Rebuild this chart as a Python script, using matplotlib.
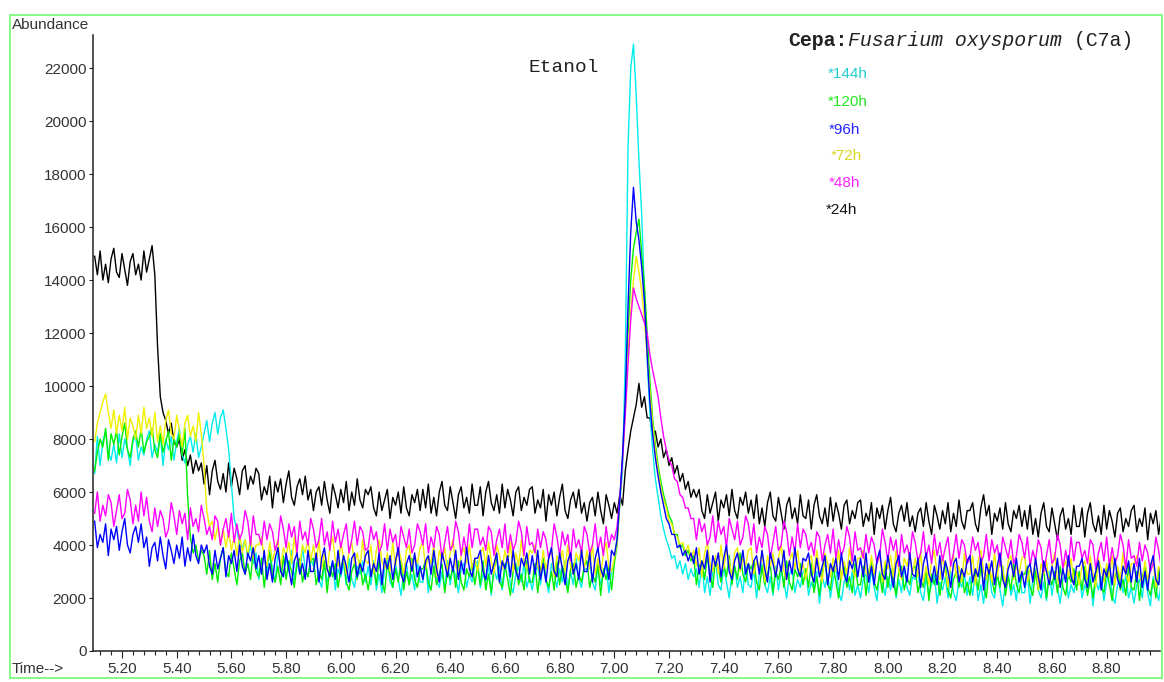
"""Total ion chromatogram overlay, Fusarium oxysporum (C7a), 24h to 144h."""

import numpy as np
import matplotlib

matplotlib.use("Agg")
import matplotlib.pyplot as plt
from matplotlib.patches import Rectangle
from matplotlib.ticker import MultipleLocator, FormatStrFormatter

W, H = 1164, 682

# retention time, 5.10 to 9.00 min every 0.01 min; one row below = 0.20 min
minutes = np.arange(510, 901) / 100

h24 = [
    14900, 14200, 15100, 14000, 14600, 13900, 14800, 15200, 14300, 14100, 15000, 14400, 13800, 14700, 15000, 14200, 14600, 14000, 15100, 14300,
    14800, 15300, 14200, 11500, 9600, 9000, 8700, 8200, 8600, 7900, 7700, 8000, 7200, 7600, 7000, 7400, 6700, 7200, 6800, 7100,
    6300, 7000, 5900, 6800, 7200, 6400, 6100, 6700, 6000, 7100, 6200, 6900, 6500, 5900, 6800, 7000, 6100, 6600, 6300, 6900,
    6700, 5700, 6200, 5900, 6600, 5400, 6400, 6000, 6500, 5600, 6300, 6800, 5800, 5500, 6200, 6500, 5900, 6600, 5700, 6100,
    5300, 6000, 6200, 5500, 6400, 5700, 5200, 6300, 5900, 5400, 6100, 5600, 6400, 5300, 6000, 5500, 6500, 5700, 5400, 6100,
    5900, 6200, 5400, 5100, 6000, 5300, 5700, 6100, 5000, 5800, 5500, 6000, 5200, 6200, 5400, 5100, 5900, 5600, 6100, 5300,
    6100, 5400, 6300, 5200, 5800, 5100, 6000, 6400, 5500, 5300, 6200, 5600, 5000, 5900, 6200, 5400, 5800, 5200, 6300, 5500,
    5500, 6200, 5100, 6000, 6400, 5600, 5300, 5900, 5200, 6300, 5400, 6100, 5700, 5100, 6000, 6200, 5300, 5800, 5500, 6100,
    6200, 5200, 5700, 5400, 6100, 4900, 5900, 5500, 6000, 5100, 5800, 6300, 5300, 5000, 5700, 6000, 5400, 6100, 5200, 5600,
    4900, 5600, 5800, 5100, 6000, 5300, 4800, 5900, 5500, 5000, 5600, 5200, 5900, 5500, 6800, 7600, 8300, 8800, 9300, 10100,
    9200, 9600, 8800, 8800, 8200, 8300, 7700, 8000, 7300, 7600, 7000, 7300, 6700, 7000, 6400, 6700, 6100, 6400, 5800, 6100,
    5800, 6100, 5300, 5000, 5900, 5200, 5600, 6000, 4900, 5700, 5400, 5900, 5100, 6100, 5300, 5000, 5800, 5500, 6000, 5200,
    5700, 5000, 5900, 4800, 5400, 4700, 5600, 6000, 5100, 4900, 5800, 5200, 4600, 5500, 5800, 5000, 5400, 4800, 5900, 5100,
    5000, 5700, 4600, 5500, 5900, 5100, 4800, 5400, 4700, 5800, 4900, 5600, 5200, 4600, 5500, 5700, 4800, 5300, 5000, 5600,
    5700, 4700, 5200, 4900, 5600, 4400, 5400, 5000, 5500, 4600, 5300, 5800, 4800, 4500, 5200, 5500, 4900, 5600, 4700, 5100,
    4500, 5200, 5400, 4700, 5600, 4900, 4400, 5500, 5100, 4600, 5300, 4800, 5600, 4500, 5200, 4700, 5700, 4900, 4600, 5300,
    5300, 5600, 4800, 4500, 5400, 5900, 5100, 5500, 4400, 5200, 4900, 5400, 4600, 5600, 4800, 4500, 5300, 5000, 5500, 4700,
    5300, 4600, 5500, 4400, 5000, 4300, 5200, 5600, 4700, 4500, 5400, 4800, 4200, 5100, 5400, 4600, 5000, 4400, 5500, 4700,
    4700, 5400, 4300, 5200, 5600, 4800, 4500, 5100, 4400, 5500, 4600, 5300, 4900, 4300, 5200, 5400, 4500, 5000, 4700, 5300,
    5500, 4500, 5000, 4700, 5400, 4200, 5200, 4800, 5300, 4400, 5100,
]

h48 = [
    5200, 6000, 4900, 5500, 5100, 5900, 5600, 4700, 5300, 5900, 5000, 5200, 6100, 5700, 4800, 5500, 4900, 6000, 5100, 5800,
    4900, 4500, 5400, 4700, 5300, 5000, 4300, 4600, 5600, 5100, 4400, 5300, 4800, 5200, 4200, 5400, 4700, 5000, 4500, 5500,
    5000, 4400, 4700, 4200, 5100, 4900, 4000, 4600, 5000, 4300, 5200, 4100, 4800, 4200, 4500, 5300, 4900, 4000, 5100, 4400,
    4400, 4000, 4900, 4200, 4800, 4500, 3800, 4100, 5100, 4600, 3900, 4800, 4300, 4700, 3700, 4900, 4200, 4500, 4000, 5000,
    4600, 3900, 4200, 5000, 4000, 4500, 3800, 4900, 4100, 4600, 3900, 4400, 4800, 3700, 4200, 4900, 4000, 4700, 4500, 3800,
    3900, 4700, 4200, 4500, 3700, 4000, 4800, 3800, 4600, 4100, 4400, 3600, 4700, 4300, 3900, 4600, 3700, 4000, 4800, 4500,
    4000, 4800, 3700, 4300, 3900, 4700, 4400, 3500, 4100, 4700, 3800, 4000, 4900, 4500, 3600, 4300, 3700, 4800, 3900, 4600,
    4600, 4000, 4300, 3800, 4700, 4500, 3600, 4200, 4600, 3900, 4800, 3700, 4400, 3800, 4100, 4900, 4500, 3600, 4700, 4000,
    4100, 3700, 4600, 3900, 4500, 4200, 3500, 3800, 4800, 4300, 3600, 4500, 4000, 4400, 3400, 4600, 3900, 4200, 3700, 4700,
    4400, 3700, 4000, 4800, 3800, 4300, 3600, 4700, 3900, 4400, 4200, 4700, 5800, 7200, 8900, 10800, 12500, 13700, 13300, 13000,
    12700, 12400, 12000, 11200, 10600, 10100, 9600, 8800, 8100, 7600, 7200, 7000, 6500, 6400, 5900, 5800, 5400, 5400, 5000, 5000,
    4200, 5000, 4500, 4800, 4000, 4300, 5100, 4100, 4900, 4400, 4700, 3900, 5000, 4600, 4200, 4900, 4000, 4300, 5100, 4800,
    4000, 4800, 3700, 4300, 3900, 4700, 4400, 3500, 4100, 4700, 3800, 4000, 4900, 4500, 3600, 4300, 3700, 4800, 3900, 4600,
    4400, 3800, 4100, 3600, 4500, 4300, 3400, 4000, 4400, 3700, 4600, 3500, 4200, 3600, 3900, 4700, 4300, 3400, 4500, 3800,
    3900, 3500, 4400, 3700, 4300, 4000, 3300, 3600, 4600, 4100, 3400, 4300, 3800, 4200, 3200, 4400, 3700, 4000, 3500, 4500,
    4100, 3400, 3700, 4500, 3500, 4000, 3300, 4400, 3600, 4100, 3400, 3900, 4300, 3200, 3700, 4400, 3500, 4200, 4000, 3300,
    3500, 4300, 3800, 4100, 3300, 3600, 4400, 3400, 4200, 3700, 4000, 3200, 4300, 3900, 3500, 4200, 3300, 3600, 4400, 4100,
    3500, 4300, 3200, 3800, 3400, 4200, 3900, 3000, 3600, 4200, 3300, 3500, 4400, 4000, 3100, 3800, 3200, 4300, 3400, 4100,
    4100, 3500, 3800, 3300, 4200, 4000, 3100, 3700, 4100, 3400, 4300, 3200, 3900, 3300, 3600, 4400, 4000, 3100, 4200, 3500,
    3600, 3200, 4100, 3400, 4000, 3700, 3000, 3300, 4300, 3800, 3100,
]

h72 = [
    7900, 8600, 9000, 9400, 9700, 9000, 8400, 9100, 8200, 8900, 8300, 9200, 8000, 8800, 8500, 8000, 8900, 8200, 9200, 8400,
    8800, 8100, 9000, 7900, 8500, 7800, 8700, 9100, 8200, 8000, 8900, 8300, 7700, 8600, 8900, 8100, 8500, 7900, 9000, 8200,
    7000, 5300, 4700, 4900, 4200, 4700, 4000, 4600, 3900, 4500, 3800, 4300, 3600, 4400, 3700, 4200, 3600, 4300, 3500, 4000,
    4000, 4300, 3500, 3200, 4100, 3400, 3800, 4200, 3100, 3900, 3600, 4100, 3300, 4300, 3500, 3200, 4000, 3700, 4200, 3400,
    4000, 3300, 4200, 3100, 3700, 3000, 3900, 4300, 3400, 3200, 4100, 3500, 2900, 3800, 4100, 3300, 3700, 3100, 4200, 3400,
    3300, 4000, 2900, 3800, 4200, 3400, 3100, 3700, 3000, 4100, 3200, 3900, 3500, 2900, 3800, 4000, 3100, 3600, 3300, 3900,
    4100, 3100, 3600, 3300, 4000, 2800, 3800, 3400, 3900, 3000, 3700, 4200, 3200, 2900, 3600, 3900, 3300, 4000, 3100, 3500,
    3000, 3700, 3900, 3200, 4100, 3400, 2900, 4000, 3600, 3100, 3800, 3300, 4100, 3000, 3700, 3200, 4200, 3400, 3100, 3800,
    3700, 4000, 3200, 2900, 3800, 3100, 3500, 3900, 2800, 3600, 3300, 3800, 3000, 4000, 3200, 2900, 3700, 3400, 3900, 3100,
    3800, 3100, 4000, 2900, 3500, 2800, 3700, 4100, 3200, 3000, 3500, 4100, 5600, 7200, 9000, 11200, 12800, 14000, 14900, 14300,
    13600, 12500, 11200, 9800, 8600, 7600, 6800, 6200, 5700, 5400, 4900, 4800, 4400, 4300, 4000, 4100, 3700, 4000, 3500, 3800,
    3200, 3900, 2800, 3700, 4100, 3300, 3000, 3600, 2900, 4000, 3100, 3800, 3400, 2800, 3700, 3900, 3000, 3500, 3200, 3800,
    3900, 2900, 3400, 3100, 3800, 2600, 3600, 3200, 3700, 2800, 3500, 4000, 3000, 2700, 3400, 3700, 3100, 3800, 2900, 3300,
    2700, 3400, 3600, 2900, 3800, 3100, 2600, 3700, 3300, 2800, 3500, 3000, 3800, 2700, 3400, 2900, 3900, 3100, 2800, 3500,
    3500, 3800, 3000, 2700, 3600, 2900, 3300, 3700, 2600, 3400, 3100, 3600, 2800, 3800, 3000, 2700, 3500, 3200, 3700, 2900,
    3500, 2800, 3700, 2600, 3200, 2500, 3400, 3800, 2900, 2700, 3600, 3000, 2400, 3300, 3600, 2800, 3200, 2600, 3700, 2900,
    2900, 3600, 2500, 3400, 3800, 3000, 2700, 3300, 2600, 3700, 2800, 3500, 3100, 2500, 3400, 3600, 2700, 3200, 2900, 3500,
    3600, 2600, 3100, 2800, 3500, 2300, 3300, 2900, 3400, 2500, 3200, 3700, 2700, 2400, 3100, 3400, 2800, 3500, 2600, 3000,
    2500, 3200, 3400, 2700, 3600, 2900, 2400, 3500, 3100, 2600, 3300, 2800, 3600, 2500, 3200, 2700, 3700, 2900, 2600, 3300,
    3300, 3600, 2800, 2500, 3400, 2700, 3100, 3500, 2400, 3200, 2900,
]

h96 = [
    4900, 3900, 4400, 4100, 4800, 3600, 4600, 4200, 4700, 3800, 4500, 5000, 4000, 3700, 4400, 4700, 4100, 4800, 3900, 4300,
    3200, 3900, 4100, 3400, 4300, 3600, 3100, 4200, 3800, 3300, 4000, 3500, 4300, 3200, 3900, 3400, 4400, 3600, 3300, 4000,
    3700, 4000, 3200, 2900, 3800, 3100, 3500, 3900, 2800, 3600, 3300, 3800, 3000, 4000, 3200, 2900, 3700, 3400, 3900, 3100,
    3600, 2900, 3800, 2700, 3300, 2600, 3500, 3900, 3000, 2800, 3700, 3100, 2500, 3400, 3700, 2900, 3300, 2700, 3800, 3000,
    3000, 3700, 2600, 3500, 3900, 3100, 2800, 3400, 2700, 3800, 2900, 3600, 3200, 2600, 3500, 3700, 2800, 3300, 3000, 3600,
    3800, 2800, 3300, 3000, 3700, 2500, 3500, 3100, 3600, 2700, 3400, 3900, 2900, 2600, 3300, 3600, 3000, 3700, 2800, 3200,
    2700, 3400, 3600, 2900, 3800, 3100, 2600, 3700, 3300, 2800, 3500, 3000, 3800, 2700, 3400, 2900, 3900, 3100, 2800, 3500,
    3500, 3800, 3000, 2700, 3600, 2900, 3300, 3700, 2600, 3400, 3100, 3600, 2800, 3800, 3000, 2700, 3500, 3200, 3700, 2900,
    3600, 2900, 3800, 2700, 3300, 2600, 3500, 3900, 3000, 2800, 3700, 3100, 2500, 3400, 3700, 2900, 3300, 2700, 3800, 3000,
    3000, 3700, 2600, 3500, 3900, 3100, 2800, 3400, 2700, 3800, 3600, 4200, 5700, 7400, 9500, 13000, 15800, 17500, 16200, 15500,
    14500, 13200, 11200, 9400, 8200, 7300, 6600, 6000, 5500, 5000, 4800, 4400, 4400, 3900, 4000, 3600, 3800, 3400, 3700, 3300,
    3900, 2900, 3400, 3100, 3800, 2600, 3600, 3200, 3700, 2800, 3500, 4000, 3000, 2700, 3400, 3700, 3100, 3800, 2900, 3300,
    2700, 3400, 3600, 2900, 3800, 3100, 2600, 3700, 3300, 2800, 3500, 3000, 3800, 2700, 3400, 2900, 3900, 3100, 2800, 3500,
    3400, 3700, 2900, 2600, 3500, 2800, 3200, 3600, 2500, 3300, 3000, 3500, 2700, 3700, 2900, 2600, 3400, 3100, 3600, 2800,
    3500, 2800, 3700, 2600, 3200, 2500, 3400, 3800, 2900, 2700, 3600, 3000, 2400, 3300, 3600, 2800, 3200, 2600, 3700, 2900,
    2800, 3500, 2400, 3300, 3700, 2900, 2600, 3200, 2500, 3600, 2700, 3400, 3000, 2400, 3300, 3500, 2600, 3100, 2800, 3400,
    3600, 2600, 3100, 2800, 3500, 2300, 3300, 2900, 3400, 2500, 3200, 3700, 2700, 2400, 3100, 3400, 2800, 3500, 2600, 3000,
    2400, 3100, 3300, 2600, 3500, 2800, 2300, 3400, 3000, 2500, 3200, 2700, 3500, 2400, 3100, 2600, 3600, 2800, 2500, 3200,
    3200, 3500, 2700, 2400, 3300, 2600, 3000, 3400, 2300, 3100, 2800, 3300, 2500, 3500, 2700, 2400, 3200, 2900, 3400, 2600,
    3300, 2600, 3500, 2400, 3000, 2300, 3200, 3600, 2700, 2500, 3400,
]

h120 = [
    6800, 7500, 8000, 7700, 8400, 7200, 8200, 7800, 8300, 7400, 8100, 8600, 7600, 7300, 8000, 8300, 7700, 8400, 7500, 7900,
    8100, 8400, 7600, 7300, 8200, 7500, 7900, 8300, 7200, 8000, 7700, 8200, 7400, 8400, 5800, 4300, 3700, 4000, 3400, 3800,
    3600, 2900, 3800, 2700, 3300, 2600, 3500, 3900, 3000, 2800, 3700, 3100, 2500, 3400, 3700, 2900, 3300, 2700, 3800, 3000,
    2800, 3500, 2400, 3300, 3700, 2900, 2600, 3200, 2500, 3600, 2700, 3400, 3000, 2400, 3300, 3500, 2600, 3100, 2800, 3400,
    3500, 2500, 3000, 2700, 3400, 2200, 3200, 2800, 3300, 2400, 3100, 3600, 2600, 2300, 3000, 3300, 2700, 3400, 2500, 2900,
    2300, 3000, 3200, 2500, 3400, 2700, 2200, 3300, 2900, 2400, 3100, 2600, 3400, 2300, 3000, 2500, 3500, 2700, 2400, 3100,
    3100, 3400, 2600, 2300, 3200, 2500, 2900, 3300, 2200, 3000, 2700, 3200, 2400, 3400, 2600, 2300, 3100, 2800, 3300, 2500,
    3200, 2500, 3400, 2300, 2900, 2200, 3100, 3500, 2600, 2400, 3300, 2700, 2100, 3000, 3300, 2500, 2900, 2300, 3400, 2600,
    2600, 3300, 2200, 3100, 3500, 2700, 2400, 3000, 2300, 3400, 2500, 3200, 2800, 2200, 3100, 3300, 2400, 2900, 2600, 3200,
    3400, 2400, 2900, 2600, 3300, 2100, 3100, 2700, 3200, 2300, 3300, 4000, 5600, 7300, 9300, 12000, 14000, 15200, 15800, 16300,
    15000, 13800, 12000, 10200, 8800, 7800, 7000, 6400, 5900, 5500, 5100, 4900, 4400, 4400, 3900, 4000, 3600, 3800, 3400, 3600,
    2500, 3200, 3400, 2700, 3600, 2900, 2400, 3500, 3100, 2600, 3300, 2800, 3600, 2500, 3200, 2700, 3700, 2900, 2600, 3300,
    3100, 3400, 2600, 2300, 3200, 2500, 2900, 3300, 2200, 3000, 2700, 3200, 2400, 3400, 2600, 2300, 3100, 2800, 3300, 2500,
    3100, 2400, 3300, 2200, 2800, 2100, 3000, 3400, 2500, 2300, 3200, 2600, 2000, 2900, 3200, 2400, 2800, 2200, 3300, 2500,
    2500, 3200, 2100, 3000, 3400, 2600, 2300, 2900, 2200, 3300, 2400, 3100, 2700, 2100, 3000, 3200, 2300, 2800, 2500, 3100,
    3200, 2200, 2700, 2400, 3100, 1900, 2900, 2500, 3000, 2100, 2800, 3300, 2300, 2000, 2700, 3000, 2400, 3100, 2200, 2600,
    2100, 2800, 3000, 2300, 3200, 2500, 2000, 3100, 2700, 2200, 2900, 2400, 3200, 2100, 2800, 2300, 3300, 2500, 2200, 2900,
    2900, 3200, 2400, 2100, 3000, 2300, 2700, 3100, 2000, 2800, 2500, 3000, 2200, 3200, 2400, 2100, 2900, 2600, 3100, 2300,
    3000, 2300, 3200, 2100, 2700, 2000, 2900, 3300, 2400, 2200, 3100, 2500, 1900, 2800, 3100, 2300, 2700, 2100, 3200, 2400,
    2300, 3000, 1900, 2800, 3200, 2400, 2100, 2700, 2000, 3100, 2200,
]

h144 = [
    6700, 8100, 7000, 7900, 8300, 7500, 7200, 7800, 7100, 8200, 7300, 8000, 7600, 7000, 7900, 8100, 7200, 7700, 7400, 8000,
    8300, 7300, 7800, 7500, 8200, 7000, 8000, 7600, 8100, 7200, 7900, 8400, 7400, 7100, 7800, 8100, 7500, 8200, 7300, 7700,
    8200, 8700, 7900, 8600, 9000, 8200, 8800, 9100, 8400, 7600, 6300, 5000, 4600, 4000, 3900, 4200, 3500, 4000, 3300, 3700,
    2700, 3400, 3600, 2900, 3800, 3100, 2600, 3700, 3300, 2800, 3500, 3000, 3800, 2700, 3400, 2900, 3900, 3100, 2800, 3500,
    3200, 3500, 2700, 2400, 3300, 2600, 3000, 3400, 2300, 3100, 2800, 3300, 2500, 3500, 2700, 2400, 3200, 2900, 3400, 2600,
    3200, 2500, 3400, 2300, 2900, 2200, 3100, 3500, 2600, 2400, 3300, 2700, 2100, 3000, 3300, 2500, 2900, 2300, 3400, 2600,
    2600, 3300, 2200, 3100, 3500, 2700, 2400, 3000, 2300, 3400, 2500, 3200, 2800, 2200, 3100, 3300, 2400, 2900, 2600, 3200,
    3400, 2400, 2900, 2600, 3300, 2100, 3100, 2700, 3200, 2300, 3000, 3500, 2500, 2200, 2900, 3200, 2600, 3300, 2400, 2800,
    2300, 3000, 3200, 2500, 3400, 2700, 2200, 3300, 2900, 2400, 3100, 2600, 3400, 2300, 3000, 2500, 3500, 2700, 2400, 3100,
    3100, 3400, 2600, 2300, 3200, 2500, 2900, 3300, 2200, 3000, 3400, 4300, 5600, 6800, 11000, 19000, 22000, 22900, 21000, 18500,
    16500, 13500, 11000, 9000, 7600, 6500, 5800, 5100, 4600, 4200, 3900, 3500, 3600, 3100, 3400, 2900, 3300, 2700, 3100, 2800,
    3100, 2400, 3300, 2200, 2800, 2100, 3000, 3400, 2500, 2300, 3200, 2600, 2000, 2900, 3200, 2400, 2800, 2200, 3300, 2500,
    2400, 3100, 2000, 2900, 3300, 2500, 2200, 2800, 2100, 3200, 2300, 3000, 2600, 2000, 2900, 3100, 2200, 2700, 2400, 3000,
    3100, 2100, 2600, 2300, 3000, 1800, 2800, 2400, 2900, 2000, 2700, 3200, 2200, 1900, 2600, 2900, 2300, 3000, 2100, 2500,
    2000, 2700, 2900, 2200, 3100, 2400, 1900, 3000, 2600, 2100, 2800, 2300, 3100, 2000, 2700, 2200, 3200, 2400, 2100, 2800,
    2700, 3000, 2200, 1900, 2800, 2100, 2500, 2900, 1800, 2600, 2300, 2800, 2000, 3000, 2200, 1900, 2700, 2400, 2900, 2100,
    2800, 2100, 3000, 1900, 2500, 1800, 2700, 3100, 2200, 2000, 2900, 2300, 1700, 2600, 2900, 2100, 2500, 1900, 3000, 2200,
    2200, 2900, 1800, 2700, 3100, 2300, 2000, 2600, 1900, 3000, 2100, 2800, 2400, 1800, 2700, 2900, 2000, 2500, 2200, 2800,
    3000, 2000, 2500, 2200, 2900, 1700, 2700, 2300, 2800, 1900, 2600, 3100, 2100, 1800, 2500, 2800, 2200, 2900, 2000, 2400,
    1800, 2500, 2700, 2000, 2900, 2200, 1700, 2800, 2400, 1900, 2600,
]

labels = ["*144h", "*120h", "*96h", "*72h", "*48h", "*24h"]
runs = [h144, h120, h96, h72, h48, h24]
line_colors = ["#00ecec", "#00ee00", "#0000ff", "#f0f000", "#ff00ff", "#000000"]
text_colors = ["#22cccc", "#22e822", "#2424ff", "#d8d820", "#ff22ff", "#111111"]
draw_order = [5, 0, 1, 3, 4, 2]

for run in runs:
    assert len(run) == len(minutes), len(run)


def fig_xy(px, py):
    return px / W, 1 - py / H


fig = plt.figure(figsize=(W / 100, H / 100), dpi=100)
fig.patch.set_facecolor("white")
ax = fig.add_axes([93 / W, 1 - 651 / H, (1160 - 93) / W, (651 - 35) / H])

for i in draw_order:
    ax.plot(minutes, runs[i], color=line_colors[i], lw=1.0)

ax.set_xlim(5.094, 8.995)
ax.set_ylim(0, 23250)
for side in ("top", "right"):
    ax.spines[side].set_visible(False)
for side in ("left", "bottom"):
    ax.spines[side].set_color("#222222")
    ax.spines[side].set_linewidth(1.1)

ax.xaxis.set_major_locator(MultipleLocator(0.2))
ax.xaxis.set_minor_locator(MultipleLocator(0.04))
ax.xaxis.set_major_formatter(FormatStrFormatter("%.2f"))
ax.yaxis.set_major_locator(MultipleLocator(2000))
ax.tick_params(axis="x", which="major", length=5, width=0.8, pad=3,
               labelsize=11, colors="#222222", labelcolor="#333333")
ax.tick_params(axis="x", which="minor", length=3, width=0.8, colors="#222222")
ax.tick_params(axis="y", which="major", length=3, width=0.8, pad=1.5,
               labelsize=11, colors="#222222", labelcolor="#333333")
for lab in ax.get_xticklabels() + ax.get_yticklabels():
    lab.set_family("Liberation Sans")

fig.text(*fig_xy(12, 25), "Abundance", fontsize=11, family="Liberation Sans",
         color="#333333", va="center", ha="left")
fig.text(*fig_xy(12, 669), "Time-->", fontsize=11, family="Liberation Sans",
         color="#333333", va="center", ha="left")

fig.text(*fig_xy(528, 67), "Etanol", fontsize=14, family="Liberation Mono",
         color="#222222", va="center", ha="left")

# strain heading in three styles, monospaced so the pieces line up by char count
char_w = 11.9
x0 = 788
pieces = [("Cepa:", "bold", "normal"), ("Fusarium oxysporum", "normal", "italic"),
          (" (C7a)", "normal", "normal")]
for text, weight, style in pieces:
    fig.text(*fig_xy(x0, 40), text, fontsize=14.3, family="Liberation Mono",
             weight=weight, style=style, color="#222222", va="center", ha="left")
    x0 += char_w * len(text)

label_x = [828, 828, 829, 831, 829, 826]
label_y = [74, 102, 130, 156, 183, 210]
for lab, c, lx, ly in zip(labels, text_colors, label_x, label_y):
    fig.text(*fig_xy(lx, ly), lab, fontsize=11, family="Liberation Sans",
             color=c, va="center", ha="left")

fig.add_artist(Rectangle(fig_xy(10, 678), (1162 - 10) / W, (678 - 15) / H,
                         transform=fig.transFigure, fill=False,
                         edgecolor="#7dfa7d", linewidth=1.3))

fig.savefig("out.png", dpi=100)
